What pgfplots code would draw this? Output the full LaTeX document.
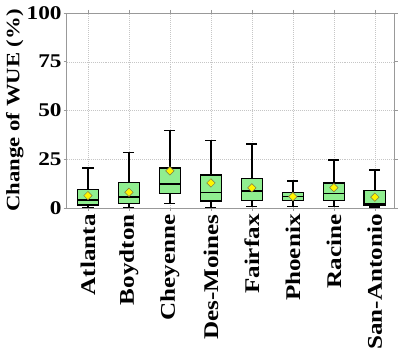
\documentclass[border=0pt]{standalone}
\usepackage{fontspec}
\setmainfont{Liberation Serif}[FakeStretch=1.2]
\usepackage{pgfplots}
\pgfplotsset{compat=1.18}
\usepgfplotslibrary{statistics}

\definecolor{boxgreen}{HTML}{90EE90}
\definecolor{meanyellow}{HTML}{FFF500}

% box(pos, lower whisker, lower quartile, median, upper quartile, upper whisker)
\newcommand{\wuebox}[6]{%
  \addplot[boxplot prepared={draw position=#1,
      lower whisker=#2, lower quartile=#3, median=#4,
      upper quartile=#5, upper whisker=#6,
      box extend=0.52, whisker extend=0.27},
    draw=black, line width=1.4pt, fill=boxgreen] coordinates {};
}

\begin{document}
\begin{tikzpicture}
\begin{axis}[
    name=ax,
    at={(0,0)}, anchor=south west,
    scale only axis,
    width=328bp, height=195bp,
    boxplot/draw direction=y,
    xmin=-0.52, xmax=7.48,
    ymin=0, ymax=100,
    xtick={0,...,7},
    xticklabels={Atlanta,Boydton,Cheyenne,Des-Moines,Fairfax,Phoenix,Racine,San-Antonio},
    x tick label style={rotate=90, anchor=east, font=\fontsize{21}{23}\selectfont\bfseries},
    ytick={0,25,50,75,100},
    y tick label style={font=\fontsize{19.5}{22}\selectfont\bfseries},
    /pgf/number format/assume math mode=true,
    ylabel={\bfseries Change of WUE (\%)},
    ylabel style={font=\fontsize{19}{21}\selectfont,
      at={(axis description cs:-0.158,0.5)}, anchor=center},
    grid=major,
    major grid style={gray!45, dash pattern=on 1pt off 1pt, line width=0.4pt},
    axis line style={gray!80, line width=0.8pt},
    tick align=outside,
    major tick length=3bp,
    tick style={gray!80, line width=0.6pt},
    xticklabel shift=0bp,
    yticklabel shift=-1.5bp,
    clip=false,
]
\wuebox{0}{0.3}{1.5}{4.1}{9.4}{20.4}
\wuebox{1}{0.3}{2.4}{5.6}{13.0}{28.5}
\wuebox{2}{2.4}{7.3}{12.3}{20.5}{39.8}
\wuebox{3}{0.2}{3.6}{8.0}{16.9}{34.5}
\wuebox{4}{0.7}{3.8}{8.7}{15.2}{32.7}
\wuebox{5}{0.7}{3.8}{6.0}{7.9}{13.8}
\wuebox{6}{0.7}{3.9}{7.4}{12.8}{24.6}
\wuebox{7}{0.5}{1.2}{2.0}{8.9}{19.5}

% means
\addplot[only marks, mark=square*, mark size=3bp,
  mark options={rotate=45, fill=meanyellow, draw=black!60!yellow, line width=0.5pt}]
  coordinates {(0,6.3) (1,8.0) (2,19.0) (3,12.8) (4,10.3) (5,5.8) (6,10.4) (7,5.5)};
\end{axis}
\path ([shift={(-66.7bp,-146bp)}]ax.south west) rectangle ([shift={(4.5bp,13bp)}]ax.north east);
\end{tikzpicture}
\end{document}
